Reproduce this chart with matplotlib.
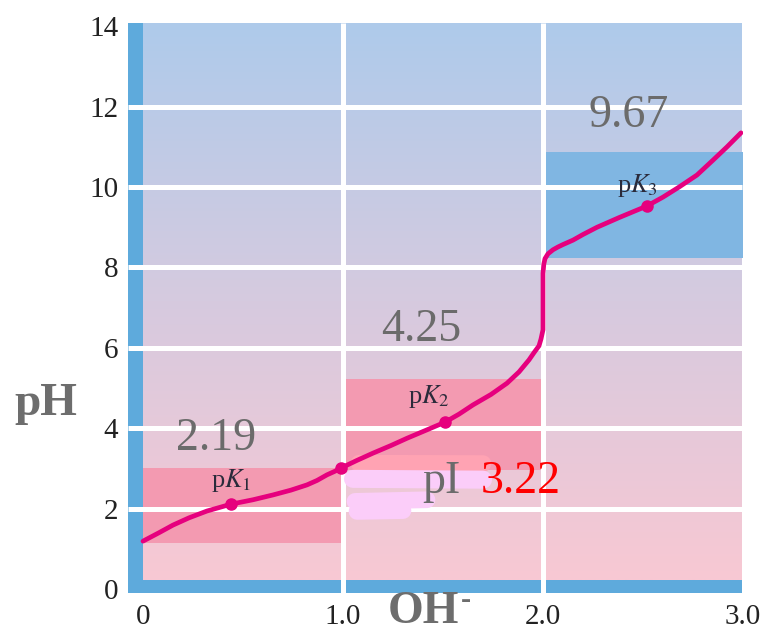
import numpy as np
import matplotlib
matplotlib.use("Agg")
import matplotlib.pyplot as plt
from matplotlib.patches import Rectangle
from matplotlib.colors import LinearSegmentedColormap

plt.rcParams["mathtext.fontset"] = "stix"

# Titration curve of glutamate: equivalents of OH- added vs pH
oh_added = [0.00, 0.08, 0.15, 0.23, 0.32, 0.44, 0.55, 0.65, 0.74, 0.82, 0.87,
            0.92, 0.96, 0.99, 1.07, 1.15, 1.24, 1.32, 1.42, 1.51, 1.58, 1.65,
            1.74, 1.82, 1.88, 1.93, 1.955, 1.98, 1.99, 2.00, 2.00, 2.004,
            2.01, 2.025, 2.05, 2.075, 2.10, 2.15, 2.20, 2.27, 2.38, 2.52,
            2.60, 2.68, 2.77, 2.85, 2.92, 2.99]
ph_values = [1.19, 1.40, 1.59, 1.77, 1.94, 2.11, 2.22, 2.34, 2.46, 2.59, 2.70,
             2.84, 2.93, 3.01, 3.20, 3.38, 3.57, 3.75, 3.96, 4.15, 4.35, 4.58,
             4.84, 5.12, 5.40, 5.70, 5.88, 6.05, 6.22, 6.45, 7.85, 8.08,
             8.22, 8.34, 8.44, 8.51, 8.57, 8.68, 8.82, 9.00, 9.24, 9.53,
             9.75, 10.00, 10.30, 10.67, 11.00, 11.35]

# Marked points: pK1, pI, pK2, pK3
point_x = [0.44, 0.99, 1.51, 2.52]
point_y = [2.11, 3.02, 4.15, 9.53]

pk_names = ["p$K_1$", "p$K_2$", "p$K_3$"]
pk_name_x = [0.44, 1.43, 2.47]
pk_name_y = [2.69, 4.78, 10.05]

# Buffering regions (x start, x end, pH low, pH high)
region_x0 = [0.0, 1.0, 2.0]
region_x1 = [1.0, 2.0, 3.0]
region_lo = [1.14, 2.96, 8.23]
region_hi = [3.02, 5.22, 10.88]
region_colors = ["#f39ab1", "#f39ab1", "#80b6e2"]

pk_texts = ["2.19", "4.25", "9.67"]
pk_text_x = [0.365, 1.39, 2.43]
pk_text_y = [3.73, 6.44, 11.78]
pi_value = "3.22"

x_ticks = [0, 1, 2, 3]
x_tick_labels = ["0", "1.0", "2.0", "3.0"]
y_ticks = [0, 2, 4, 6, 8, 10, 12, 14]

fig = plt.figure(figsize=(7.65, 6.33), dpi=100)
ax = fig.add_axes([128 / 765, 40 / 633, 615 / 765, 570.3 / 633])
ax.set_xlim(-0.075, 2.995)
ax.set_ylim(-0.1, 14.09)
for s in ax.spines.values():
    s.set_visible(False)
ax.set_facecolor("none")

# vertical pink-to-blue background
cmap = LinearSegmentedColormap.from_list("bg", ["#f8c8d3", "#d6cadf", "#aecbeb"])
grad = np.linspace(0, 1, 256).reshape(-1, 1)
ax.imshow(grad, cmap=cmap, origin="lower", aspect="auto",
          extent=(0, 2.995, 0.22, 14.09), zorder=0)

# blue frame strips along left and bottom
strip = "#5eaadc"
ax.add_patch(Rectangle((-0.075, -0.1), 0.075, 14.19, color=strip, lw=0, zorder=1))
ax.add_patch(Rectangle((-0.075, -0.1), 3.07, 0.32, color=strip, lw=0, zorder=1))

for x0, x1, lo, hi, c in zip(region_x0, region_x1, region_lo, region_hi, region_colors):
    ax.add_patch(Rectangle((x0, lo), x1 - x0, hi - lo, color=c, lw=0, zorder=2))

# white grid
for yv in y_ticks[1:-1]:
    ax.plot([-0.075, 2.995], [yv, yv], color="white", lw=3.6, zorder=3,
            solid_capstyle="butt")
for xv in [1, 2]:
    ax.plot([xv, xv], [-0.1, 14.09], color="white", lw=3.6, zorder=3,
            solid_capstyle="butt")

# highlighter strokes around the isoelectric point
stroke_x = [[1.08, 1.70], [1.05, 1.70], [1.06, 1.42], [1.07, 1.30]]
stroke_y = [[3.13, 3.12], [2.74, 2.72], [2.18, 2.22], [1.93, 1.95]]
stroke_c = ["#ffa3b3", "#fbcdf9", "#fbcdf9", "#fbcdf9"]
stroke_w = [12, 13, 12, 12]
for sx, sy, c, w in zip(stroke_x, stroke_y, stroke_c, stroke_w):
    ax.plot(sx, sy, color=c, lw=w, solid_capstyle="round", zorder=4)

ax.plot(oh_added, ph_values, color="#e6007e", lw=3.4, zorder=5,
        solid_joinstyle="round", solid_capstyle="round")
ax.plot(point_x, point_y, "o", color="#e6007e", ms=8, zorder=6)

serif = "Liberation Serif"
for name, nx, ny in zip(pk_names, pk_name_x, pk_name_y):
    ax.text(nx, ny, name, ha="center", va="center", fontsize=19,
            family=serif, color="#2b2b3b", zorder=7)

for t, tx, ty in zip(pk_texts, pk_text_x, pk_text_y):
    ax.text(tx, ty, t, ha="center", va="center", fontsize=33, family=serif,
            color="#6b6b6b", zorder=7)

ax.text(1.49, 2.66, "pI", ha="center", va="center", fontsize=33, family=serif,
        color="#6b6b6b", zorder=7)
ax.text(1.89, 2.66, pi_value, ha="center", va="center", fontsize=33,
        family=serif, color="#ff0000", zorder=7)

ax.set_xticks(x_ticks)
ax.set_xticklabels(x_tick_labels)
ax.set_yticks(y_ticks)
ax.set_yticklabels([str(v) for v in y_ticks])
ax.tick_params(length=0, labelsize=21, colors="#222222")
ax.tick_params(axis="x", pad=8)
ax.tick_params(axis="y", pad=7)
for lab in ax.get_xticklabels() + ax.get_yticklabels():
    lab.set_family(serif)

fig.text(46 / 765, 1 - 404 / 633, "pH", ha="center", va="center",
         fontsize=34, fontweight="bold", family=serif, color="#6d6d6d")
fig.text(423 / 765, 1 - 612 / 633, "OH", ha="center", va="center",
         fontsize=33, fontweight="bold", family=serif, color="#6d6d6d")
fig.text(466 / 765, 1 - 601 / 633, "-", ha="center", va="center",
         fontsize=22, fontweight="bold", family=serif, color="#6d6d6d")

fig.savefig("out.png", dpi=100)
